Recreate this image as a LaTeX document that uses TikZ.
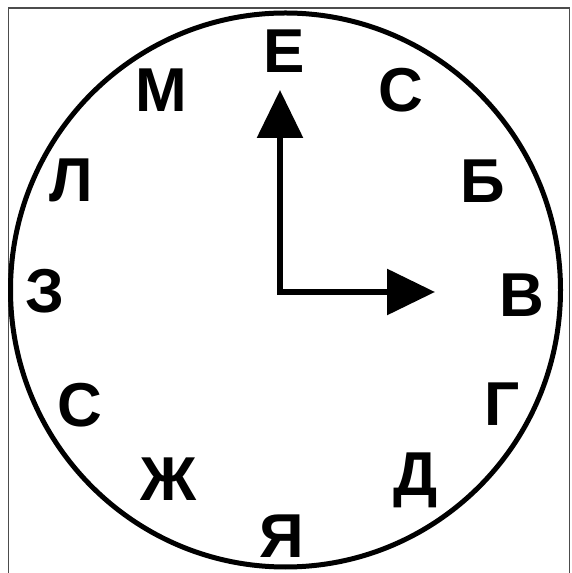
\documentclass[tikz,border=0pt]{standalone}
\usepackage{fontspec}
\setmainfont{Liberation Sans}
\usetikzlibrary{arrows.meta}
\begin{document}
\begin{tikzpicture}[x=1pt,y=1pt,
  letter/.style={anchor=base,inner sep=0pt,font=\fontsize{62}{62}\selectfont\bfseries},
  hand/.style={line width=6pt,-{Triangle[length=48pt,width=45pt]}}]
\useasboundingbox (0,0) rectangle (571,573);
\fill[white] (0,0) rectangle (571,573);
\draw[line width=1.5pt,black!70] (8.5,-2) -- (8.5,565) -- (569.5,565) -- (569.5,-2);
\draw[line width=5pt] (285.5,283) ellipse [x radius=275, y radius=277];
\node[letter] (e) at (284,500) {Е};
\node[letter] (s1) at (401,461) {С};
\node[letter] (m) at (161,461) {М};
\node[letter] (l) at (71,371) {Л};
\node[letter] (b) at (483,370) {Б};
\node[letter] (z) at (45,260) {З};
\node[letter] (v) at (522,256) {В};
\node[letter] (g) at (502,147) {Г};
\node[letter] (s2) at (80,146) {С};
\node[letter] (d) at (416,77) {Д};
\node[letter] (zh) at (169,72) {Ж};
\node[letter] (ya) at (282,15) {Я};
\coordinate (o) at (280,281);
\coordinate (up) at (280,483);
\coordinate (rt) at (435,281);
\draw[hand,line cap=rect] (o) -- (up);
\draw[hand,line cap=rect] (o) -- (rt);
\end{tikzpicture}
\end{document}
